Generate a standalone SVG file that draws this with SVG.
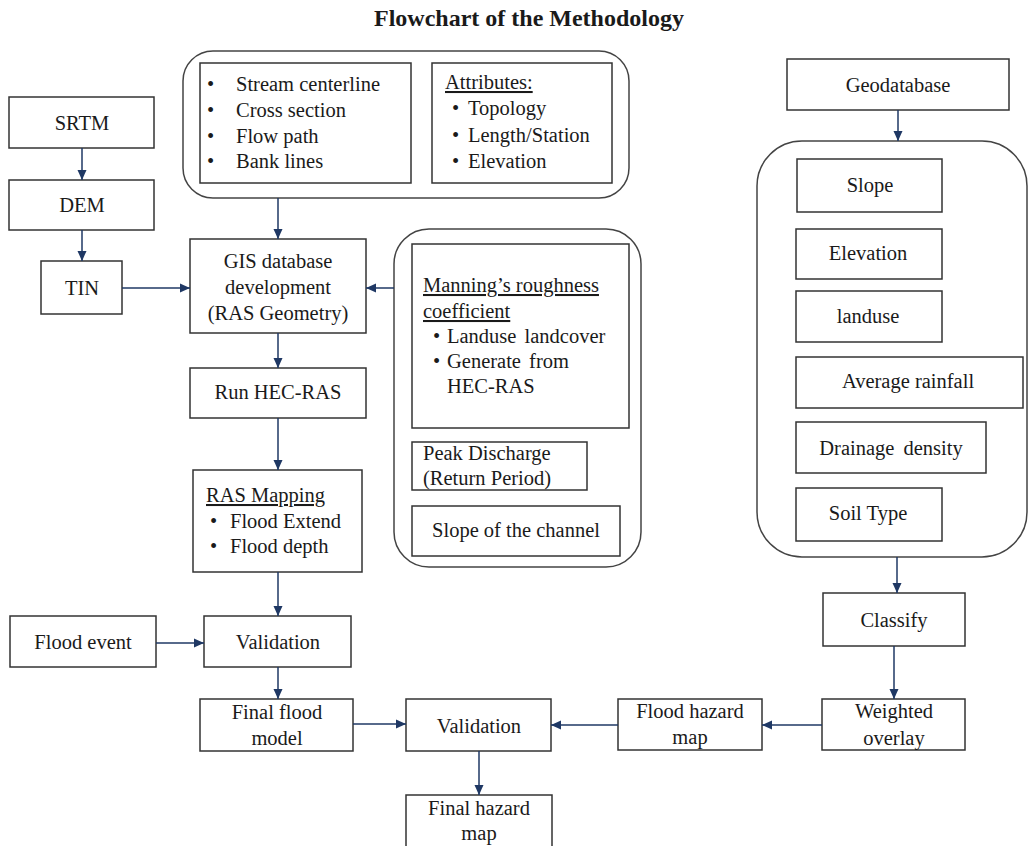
<svg xmlns="http://www.w3.org/2000/svg" width="1029" height="846" viewBox="0 0 1029 846">
<style>
.box{fill:#fff;stroke:#333;stroke-width:1.5}
.cont{fill:none;stroke:#444;stroke-width:1.5}
text{font-family:"Liberation Serif","Times New Roman",serif;font-size:20.5px;fill:#1a1a1a}
.c{text-anchor:middle}
.u{text-decoration:underline}
.title{font-weight:bold;font-size:24px}
.con line{stroke:#1f3864;stroke-width:1.5;marker-end:url(#ah)}
</style>
<defs>
<marker id="ah" markerUnits="userSpaceOnUse" markerWidth="12" markerHeight="12" viewBox="0 0 12 12" refX="11" refY="6" orient="auto">
<path d="M1,1.5 L11,6 L1,10.5 Z" fill="#1f3864"/>
</marker>
</defs>
<rect width="1029" height="846" fill="#fff"/>
<text class="title c" x="529" y="26">Flowchart of the Methodology</text>

<g id="top-container">
<rect class="cont" x="183" y="51" width="446" height="147" rx="30"/>
<rect class="box" x="200" y="63" width="211" height="120"/>
<text x="207" y="91">•</text><text x="236" y="91">Stream centerline</text>
<text x="207" y="117">•</text><text x="236" y="117">Cross section</text>
<text x="207" y="143">•</text><text x="236" y="143">Flow path</text>
<text x="207" y="168">•</text><text x="236" y="168">Bank lines</text>
<rect class="box" x="432" y="63" width="180" height="120"/>
<text class="u" x="445" y="89">Attributes:</text>
<text x="452" y="115">•</text><text x="468" y="115">Topology</text>
<text x="452" y="142">•</text><text x="468" y="142">Length/Station</text>
<text x="452" y="168">•</text><text x="468" y="168">Elevation</text>
</g>

<g id="srtm"><rect class="box" x="9" y="97" width="145" height="51"/><text class="c" x="82" y="130">SRTM</text></g>
<g id="dem"><rect class="box" x="9" y="180" width="145" height="50"/><text class="c" x="82" y="212">DEM</text></g>
<g id="tin"><rect class="box" x="41" y="261" width="81" height="53"/><text class="c" x="82" y="295">TIN</text></g>

<g id="gis"><rect class="box" x="190" y="239" width="176" height="94"/>
<text class="c" x="278" y="268">GIS database</text>
<text class="c" x="278" y="294">development</text>
<text class="c" x="278" y="320">(RAS Geometry)</text></g>

<g id="run"><rect class="box" x="190" y="368" width="176" height="50"/><text class="c" x="278" y="399">Run HEC-RAS</text></g>

<g id="rasmap"><rect class="box" x="193" y="470" width="169" height="102"/>
<text class="u" x="206" y="502">RAS Mapping</text>
<text x="210" y="528">•</text><text x="230" y="528">Flood Extend</text>
<text x="210" y="553">•</text><text x="230" y="553">Flood depth</text></g>

<g id="mid-container">
<rect class="cont" x="394" y="229" width="247" height="338" rx="35"/>
<rect class="box" x="412" y="244" width="217" height="184"/>
<text class="u" x="423" y="292">Manning’s roughness</text>
<text class="u" x="423" y="318">coefficient</text>
<text x="433" y="343">•</text><text x="447" y="343" word-spacing="3">Landuse landcover</text>
<text x="433" y="368">•</text><text x="447" y="368" word-spacing="3">Generate from</text>
<text x="447" y="393">HEC-RAS</text>
<rect class="box" x="412" y="442" width="175" height="48"/>
<text x="423" y="460">Peak Discharge</text>
<text x="423" y="485">(Return Period)</text>
<rect class="box" x="412" y="506" width="208" height="50"/>
<text class="c" x="516" y="537">Slope of the channel</text>
</g>

<g id="floodevent"><rect class="box" x="10" y="616" width="146" height="51"/><text class="c" x="83" y="649">Flood event</text></g>
<g id="validation1"><rect class="box" x="204" y="616" width="147" height="51"/><text class="c" x="278" y="649">Validation</text></g>
<g id="finalflood"><rect class="box" x="200" y="699" width="153" height="52"/>
<text class="c" x="277" y="719">Final flood</text><text class="c" x="277" y="745">model</text></g>
<g id="validation2"><rect class="box" x="406" y="699" width="145" height="52"/><text class="c" x="479" y="733">Validation</text></g>
<g id="finalhazard"><rect class="box" x="406" y="795" width="146" height="56"/>
<text class="c" x="479" y="815">Final hazard</text><text class="c" x="479" y="840">map</text></g>

<g id="geodatabase"><rect class="box" x="787" y="59" width="222" height="51"/><text class="c" x="898" y="92">Geodatabase</text></g>

<g id="right-container">
<rect class="cont" x="757" y="141" width="270" height="416" rx="45"/>
<rect class="box" x="797" y="159" width="145" height="53"/><text class="c" x="870" y="192">Slope</text>
<rect class="box" x="796" y="229" width="146" height="50"/><text class="c" x="868" y="260">Elevation</text>
<rect class="box" x="796" y="291" width="146" height="51"/><text class="c" x="868" y="323">landuse</text>
<rect class="box" x="796" y="357" width="227" height="51"/><text class="c" x="908" y="388">Average rainfall</text>
<rect class="box" x="796" y="422" width="190" height="51"/><text class="c" x="891" y="455" word-spacing="4">Drainage density</text>
<rect class="box" x="796" y="488" width="146" height="53"/><text class="c" x="868" y="520">Soil Type</text>
</g>

<g id="classify"><rect class="box" x="823" y="593" width="142" height="53"/><text class="c" x="894" y="627">Classify</text></g>
<g id="weighted"><rect class="box" x="822" y="699" width="143" height="51"/>
<text class="c" x="894" y="718">Weighted</text><text class="c" x="894" y="745">overlay</text></g>
<g id="floodhazard"><rect class="box" x="618" y="699" width="144" height="51"/>
<text class="c" x="690" y="718">Flood hazard</text><text class="c" x="690" y="744">map</text></g>

<g id="connectors" class="con">
<line x1="82" y1="148" x2="82" y2="180"/>
<line x1="82" y1="230" x2="82" y2="261"/>
<line x1="122" y1="288" x2="190" y2="288"/>
<line x1="278" y1="198" x2="278" y2="239"/>
<line x1="394" y1="288" x2="366" y2="288"/>
<line x1="278" y1="333" x2="278" y2="368"/>
<line x1="278" y1="418" x2="278" y2="470"/>
<line x1="278" y1="572" x2="278" y2="616"/>
<line x1="156" y1="643" x2="204" y2="643"/>
<line x1="278" y1="667" x2="278" y2="699"/>
<line x1="353" y1="724" x2="406" y2="724"/>
<line x1="479" y1="751" x2="479" y2="795"/>
<line x1="898" y1="110" x2="898" y2="141"/>
<line x1="897" y1="557" x2="897" y2="593"/>
<line x1="894" y1="646" x2="894" y2="699"/>
<line x1="822" y1="725" x2="762" y2="725"/>
<line x1="618" y1="725" x2="551" y2="725"/>
</g>
</svg>
